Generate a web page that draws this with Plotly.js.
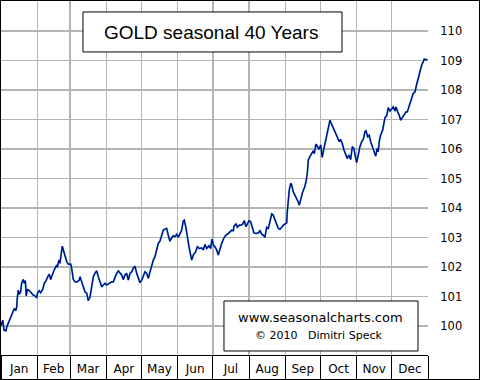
<!DOCTYPE html>
<html>
<head>
<meta charset="utf-8">
<script src="https://cdn.plot.ly/plotly-3.0.1.min.js"></script>
<style>
  html, body { margin: 0; padding: 0; background: #fff; }
  #wrap { width: 478px; height: 378px; border: 1px solid #000; overflow: hidden; }
  #chart { width: 478px; height: 378px; }
</style>
</head>
<body>
<div id="wrap"><div id="chart"></div></div>
<script>
// Day of year (0 = Jan 1) and seasonal index values
const dayOfYear = [
  0, 1.5, 2.6, 4.3, 4.9, 6.8, 8.6, 10.0, 11.4, 12.6, 13.4, 13.9, 14.8, 15.6, 16.8, 17.7, 19.1, 19.9, 20.8, 21.6,
  22.5, 23.7, 25.4, 27.6, 29.1, 30.5, 31.4, 32.7, 33.9, 35.6, 37.0, 38.5, 40.2, 41.3, 42.5, 43.3, 44.7, 46.2, 47.6, 48.1,
  49.6, 50.4, 51.3, 52.4, 53.3, 54.7, 56.2, 57.5, 59.6, 60.4, 61.8, 63.3, 65.2, 66.9, 67.5, 69.0, 70.3, 71.8, 73.3, 74.6,
  76.1, 77.5, 78.9, 80.3, 81.8, 83.2, 84.6, 86.1, 87.4, 88.9, 90.3, 91.7, 93.2, 94.6, 96.0, 97.4, 98.9, 100.3, 101.7, 103.2,
  104.5, 106.0, 107.4, 108.8, 110.3, 111.7, 113.1, 114.5, 116.0, 117.4, 118.8, 120.3, 121.6, 123.1, 124.5, 125.9, 127.4, 128.8, 130.2, 131.6,
  133.1, 134.4, 135.9, 137.4, 138.7, 140.2, 141.6, 143.0, 144.4, 145.9, 147.3, 148.7, 150.2, 151.5, 153.0, 154.4, 155.8, 156.7, 157.9, 159.2,
  160.7, 162.1, 163.0, 164.4, 166.4, 167.8, 169.5, 171.5, 172.9, 174.4, 175.8, 177.8, 179.2, 180.3, 181.5, 182.9, 184.4, 185.7, 187.2, 188.6,
  190.6, 192.3, 194.3, 195.7, 197.2, 198.6, 199.2, 200.9, 202.0, 203.7, 205.1, 206.6, 208.0, 209.4, 210.5, 212.0, 213.4, 214.8, 216.2, 218.0,
  219.9, 221.4, 222.8, 224.2, 225.6, 227.1, 228.5, 229.9, 231.4, 232.7, 234.2, 235.6, 237.0, 238.5, 239.9, 241.3, 242.7, 244.2, 244.7, 245.6,
  246.4, 247.6, 248.5, 249.8, 251.3, 252.7, 254.1, 255.0, 256.2, 257.9, 259.6, 260.7, 261.8, 262.7, 264.1, 265.6, 266.9, 267.8, 269.2, 270.3,
  271.8, 273.3, 274.6, 275.5, 276.9, 278.4, 279.7, 281.2, 282.1, 283.5, 284.9, 286.3, 287.8, 289.2, 290.3, 291.7, 293.2, 294.6, 296.0, 297.4,
  298.9, 300.3, 301.7, 302.6, 304.0, 305.4, 306.8, 308.3, 309.7, 311.1, 312.0, 313.4, 314.8, 316.0, 317.4, 318.8, 320.3, 321.6, 322.5, 323.3,
  324.5, 326.2, 327.4, 328.2, 329.7, 331.0, 332.5, 333.9, 335.3, 336.8, 337.6, 339.1, 340.4, 341.6, 343.3, 344.7, 346.2, 347.3, 348.1, 349.6,
  351.0, 352.4, 353.9, 355.3, 356.7, 358.1, 359.6, 360.9, 361.8, 363.3, 364.4
];
const seasonalIndex = [
  100.00, 100.20, 99.86, 99.84, 99.97, 100.15, 100.31, 100.45, 100.60, 100.52, 100.65, 100.94, 101.22, 101.08, 101.16, 101.47, 101.58, 101.45, 101.54, 101.02,
  101.24, 101.22, 101.13, 101.05, 101.02, 100.97, 101.13, 101.20, 101.13, 101.24, 101.45, 101.54, 101.69, 101.76, 101.58, 101.69, 101.83, 101.96, 102.07, 101.99,
  102.24, 102.13, 102.48, 102.71, 102.58, 102.35, 102.18, 102.10, 102.10, 101.96, 101.58, 101.50, 101.50, 101.56, 101.67, 101.50, 101.33, 101.16, 101.11, 100.86,
  100.99, 101.33, 101.67, 101.79, 101.87, 101.67, 101.50, 101.33, 101.39, 101.45, 101.39, 101.42, 101.45, 101.50, 101.50, 101.67, 101.79, 101.87, 101.79, 101.73,
  101.58, 101.73, 101.79, 101.56, 101.79, 101.84, 101.96, 102.03, 101.79, 101.62, 101.47, 101.56, 101.67, 101.84, 101.79, 101.62, 101.84, 102.07, 102.24, 102.35,
  102.63, 102.80, 102.88, 103.11, 103.25, 103.29, 103.31, 103.08, 102.88, 102.99, 103.06, 103.03, 103.11, 103.01, 103.14, 103.25, 103.56, 103.59, 103.37, 102.97,
  102.69, 102.41, 102.24, 102.41, 102.52, 102.69, 102.63, 102.65, 102.58, 102.77, 102.63, 102.72, 102.63, 102.95, 102.75, 102.69, 102.58, 102.41, 102.63, 102.80,
  102.99, 103.08, 103.14, 103.20, 103.25, 103.23, 103.39, 103.46, 103.35, 103.42, 103.42, 103.46, 103.57, 103.37, 103.48, 103.57, 103.54, 103.35, 103.16, 103.14,
  103.16, 103.23, 103.12, 103.08, 103.01, 103.35, 103.31, 103.54, 103.80, 103.76, 103.59, 103.46, 103.31, 103.28, 103.37, 103.42, 103.46, 103.50, 103.87, 104.27,
  104.61, 104.84, 104.78, 104.55, 104.44, 104.33, 104.21, 104.10, 104.33, 104.55, 104.72, 104.89, 105.18, 105.63, 105.75, 105.85, 105.94, 105.85, 106.17, 106.10,
  105.99, 106.14, 105.72, 105.91, 106.19, 106.55, 106.76, 106.98, 106.89, 106.76, 106.59, 106.47, 106.36, 106.25, 106.33, 106.19, 105.97, 105.80, 105.68, 105.80,
  105.65, 106.08, 106.02, 105.80, 105.54, 105.80, 106.08, 106.25, 106.33, 106.59, 106.62, 106.42, 106.47, 106.25, 106.08, 105.87, 105.76, 106.03, 105.91, 106.25,
  106.47, 106.64, 106.84, 107.06, 107.13, 107.40, 107.29, 107.38, 107.43, 107.29, 107.43, 107.26, 107.15, 106.98, 107.09, 107.15, 107.26, 107.26, 107.38, 107.55,
  107.72, 107.89, 107.94, 108.19, 108.40, 108.68, 108.85, 108.96, 109.05, 109.02, 109.05
];
const yTicks = [100, 101, 102, 103, 104, 105, 106, 107, 108, 109, 110];
const titleText = 'GOLD seasonal 40 Years';
const sourceLine1 = 'www.seasonalcharts.com';
const sourceLine2 = '\u00a9 2010\u00a0\u00a0\u00a0Dimitri Speck';

const yearStart = Date.UTC(2010, 0, 1);
function toDate(d) {
  return new Date(yearStart + d * 86400000).toISOString().replace('T', ' ').slice(0, 19);
}
const xDates = dayOfYear.map(toDate);

const traces = [
  { x: xDates, y: seasonalIndex, type: 'scatter', mode: 'lines',
    line: { color: '#3aa8c4', width: 1.9 }, hoverinfo: 'skip' },
  { x: xDates, y: seasonalIndex, type: 'scatter', mode: 'lines',
    line: { color: '#00008c', width: 1.2 }, hoverinfo: 'skip' }
];

const layout = {
  width: 478, height: 378,
  margin: { l: 0, r: 51, t: 0, b: 24, pad: 0 },
  paper_bgcolor: '#ffffff', plot_bgcolor: '#ffffff',
  showlegend: false,
  font: { family: 'DejaVu Sans, Verdana, sans-serif', size: 12, color: '#000' },
  xaxis: {
    type: 'date',
    range: ['2010-01-01', '2011-01-01'],
    dtick: 'M1', tick0: '2010-01-01',
    tickformat: '%b',
    ticklabelmode: 'period',
    ticks: 'outside', ticklen: 24, tickcolor: '#000', tickwidth: 1,
    ticklabelstandoff: -21,
    showgrid: true, gridcolor: '#b4b4b4', gridwidth: 1.5,
    showline: true, linecolor: '#000', linewidth: 1,
    zeroline: false, fixedrange: true,
    tickfont: { family: 'DejaVu Sans, Verdana, sans-serif', size: 12, color: '#000' }
  },
  yaxis: {
    side: 'right',
    range: [99.02, 111.02],
    tickvals: yTicks,
    ticks: 'outside', ticklen: 9, tickcolor: 'rgba(0,0,0,0)',
    showgrid: true, gridcolor: '#b4b4b4', gridwidth: 1.5,
    showline: false, zeroline: false, fixedrange: true,
    tickfont: { family: 'DejaVu Sans, Verdana, sans-serif', size: 11.5, color: '#000' }
  },
  shapes: [
    { type: 'rect', xref: 'paper', yref: 'paper', x0: 0.192, x1: 0.7986, y0: 0.856, y1: 0.969,
      line: { color: '#000', width: 1 }, fillcolor: '#fff', layer: 'above' },
    { type: 'rect', xref: 'paper', yref: 'paper', x0: 0.5222, x1: 0.9766, y0: 0.0113, y1: 0.1525,
      line: { color: '#000', width: 1 }, fillcolor: '#fff', layer: 'above' }
  ],
  annotations: [
    { text: titleText, xref: 'paper', yref: 'paper', x: 0.4918, y: 0.9124,
      xanchor: 'center', yanchor: 'middle', showarrow: false,
      font: { family: 'Arial, Liberation Sans, sans-serif', size: 19, color: '#000' } },
    { text: sourceLine1, xref: 'paper', yref: 'paper', x: 0.749, y: 0.1073,
      xanchor: 'center', yanchor: 'middle', showarrow: false,
      font: { family: 'DejaVu Sans, Verdana, sans-serif', size: 13, color: '#000' } },
    { text: sourceLine2, xref: 'paper', yref: 'paper', x: 0.7424, y: 0.0537,
      xanchor: 'center', yanchor: 'middle', showarrow: false,
      font: { family: 'DejaVu Sans, Verdana, sans-serif', size: 11, color: '#000' } }
  ]
};

Plotly.newPlot('chart', traces, layout, { staticPlot: true, displayModeBar: false });
</script>
</body>
</html>
